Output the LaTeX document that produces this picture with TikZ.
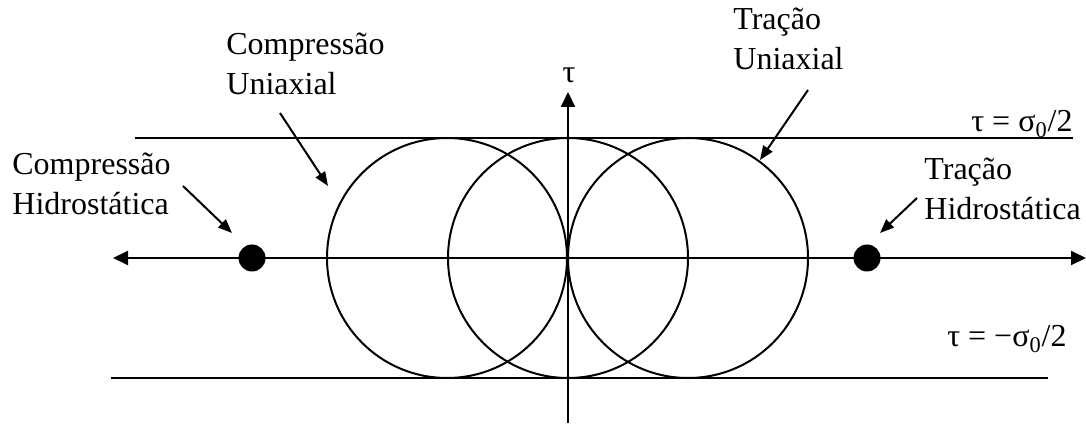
\documentclass[tikz,border=0pt]{standalone}
\usepackage{fontspec}
\setmainfont{Liberation Serif}
\usetikzlibrary{arrows.meta}

\tikzset{
  lbl/.style={font=\fontsize{16}{20}\selectfont,inner sep=0pt},
  mohr/.style={line width=1pt},
  pointer/.style={line width=1pt,-{Triangle[length=7pt,width=5.5pt]}},
  axisline/.style={line width=1pt,-{Triangle[length=7.5pt,width=7pt]}},
  hydro/.style={circle,fill=black,inner sep=0pt,minimum size=13.5pt}
}

\begin{document}
\begin{tikzpicture}[x=0.5pt,y=0.5pt]
  \useasboundingbox (0,0) rectangle (1086,423);
  % limits tau = +-sigma0/2
  \coordinate (limTopL) at (135,285);
  \coordinate (limTopR) at (1073,285);
  \coordinate (limBotL) at (111,45);
  \coordinate (limBotR) at (1048,45);
  \draw[mohr] (limTopL) -- (limTopR);
  \draw[mohr] (limBotL) -- (limBotR);
  % axes
  \coordinate (origin) at (568,165);
  \coordinate (sigL) at (113,165);
  \coordinate (sigR) at (1086,165);
  \coordinate (tauB) at (568,0);
  \coordinate (tauT) at (568,331);
  \draw[axisline] (origin) -- (sigL);
  \draw[axisline] (origin) -- (sigR);
  \draw[axisline] (tauB) -- (tauT);
  \node[lbl,anchor=base] (tau) at (569,340) {τ};
  % Mohr circles
  \foreach \cx/\nm in {447/cComp, 568/cShear, 688/cTrac}
    \draw[mohr] (\cx,165) circle (120);
  % hydrostatic points
  \node[hydro] (hComp) at (252,165) {};
  \node[hydro] (hTrac) at (867,165) {};
  % labels
  \node[lbl,anchor=north west,align=left] (compU) at (226,390) {Compressão\\Uniaxial};
  \node[lbl,anchor=north west,align=left] (compH) at (12,270) {Compressão\\Hidrostática};
  \node[lbl,anchor=north west,align=left] (tracU) at (733,415) {Tração\\Uniaxial};
  \node[lbl,anchor=north west,align=left] (tracH) at (924,265) {Tração\\Hidrostática};
  \node[lbl,anchor=base east] (limTop) at (1073,291) {τ = σ\textsubscript{0}/2};
  \node[lbl,anchor=base east] (limBot) at (1067,76) {τ = −σ\textsubscript{0}/2};
  % pointers
  \coordinate (pCU) at (280,310);
  \coordinate (eCU) at (328,237);
  \coordinate (pCH) at (183,237);
  \coordinate (eCH) at (232,190);
  \coordinate (pTU) at (808,333);
  \coordinate (eTU) at (760,263);
  \coordinate (pTH) at (917,225);
  \coordinate (eTH) at (880,190);
  \draw[pointer] (pCU) -- (eCU);
  \draw[pointer] (pCH) -- (eCH);
  \draw[pointer] (pTU) -- (eTU);
  \draw[pointer] (pTH) -- (eTH);
\end{tikzpicture}
\end{document}
